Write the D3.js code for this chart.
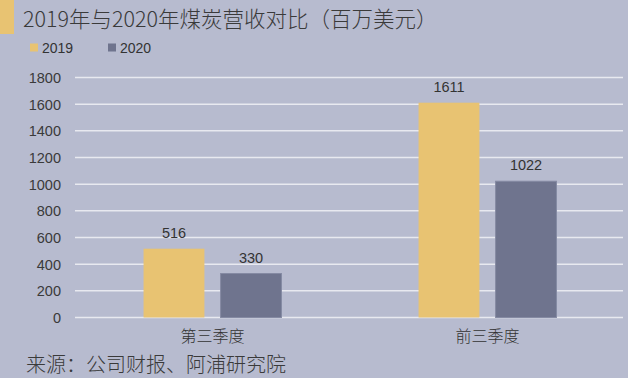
<!DOCTYPE html>
<html><head><meta charset="utf-8">
<script src="https://cdn.jsdelivr.net/npm/d3@7"></script>
<style>
html,body{margin:0;padding:0;background:#b7bbcf;}
svg{display:block;}
</style></head>
<body>
<svg id="c" width="628" height="378"></svg>
<script>
const categories = ["第三季度", "前三季度"];
const seriesNames = ["2019", "2020"];
const values2019 = [516, 1611];
const values2020 = [330, 1022];
const yTicks = [0, 200, 400, 600, 800, 1000, 1200, 1400, 1600, 1800];
const colors = ["#e8c372", "#6f748e"];
const titleText = "2019年与2020年煤炭营收对比（百万美元）";
const sourceText = "来源：公司财报、阿浦研究院";

const data = categories.map((c, i) => ({cat: c, vals: [values2019[i], values2020[i]]}));

const svg = d3.select("#c");
svg.append("rect").attr("width", 628).attr("height", 378).attr("fill", "#b7bbcf");

// title block
svg.append("rect").attr("x", 0).attr("y", 0).attr("width", 14).attr("height", 34).attr("fill", "#e8c372");
svg.append("text").attr("x", 23).attr("y", 27)
  .attr("font-family", "'Noto Sans CJK SC', sans-serif").attr("font-size", 21.5).attr("font-weight", 300)
  .attr("fill", "#3a3a3a").text(titleText);

// legend
const lgX = [30, 108];
seriesNames.forEach((s, i) => {
  svg.append("rect").attr("x", lgX[i]).attr("y", 43.5).attr("width", 8).attr("height", 8).attr("fill", colors[i]);
  svg.append("text").attr("x", lgX[i] + 12).attr("y", 52.5)
    .attr("font-family", "'Liberation Sans', Arial, sans-serif").attr("font-size", 14)
    .attr("fill", "#333").text(s);
});

const x0 = d3.scaleBand().domain(categories).range([75, 625]).padding(0);
const x1 = d3.scaleBand().domain(seriesNames).range([0, x0.bandwidth()]).paddingInner(0.21).paddingOuter(0.89);
const y = d3.scaleLinear().domain([0, 1800]).range([317.5, 77.5]);

// gridlines
svg.append("g").selectAll("line").data(yTicks).join("line")
  .attr("x1", 75).attr("x2", 623)
  .attr("y1", d => y(d)).attr("y2", d => y(d))
  .attr("stroke", "#e8e9f0").attr("stroke-width", 1.5);

// y axis labels
const yAxis = d3.axisLeft(y).tickValues(yTicks).tickFormat(d3.format("d")).tickSize(0).tickPadding(0);
const ya = svg.append("g").attr("transform", "translate(61,0)").call(yAxis);
ya.select(".domain").remove();
ya.selectAll("text").attr("font-family", "'Liberation Sans', Arial, sans-serif")
  .attr("font-size", 14.5).attr("fill", "#3a3a3a").attr("dy", "0.35em");

// bars
const g = svg.append("g").selectAll("g").data(data).join("g")
  .attr("transform", d => `translate(${x0(d.cat)},0)`);
g.selectAll("rect").data(d => d.vals.map((v, i) => ({s: seriesNames[i], v, i}))).join("rect")
  .attr("x", d => x1(d.s)).attr("width", x1.bandwidth())
  .attr("y", d => y(d.v)).attr("height", d => y(0) - y(d.v))
  .attr("fill", d => colors[d.i])
  .attr("stroke", d => d.i === 1 ? "#858aa3" : "none").attr("stroke-width", 1);
g.selectAll("text").data(d => d.vals.map((v, i) => ({s: seriesNames[i], v, i}))).join("text")
  .attr("x", d => x1(d.s) + x1.bandwidth() / 2).attr("y", d => y(d.v) - 11)
  .attr("text-anchor", "middle")
  .attr("font-family", "'Liberation Sans', Arial, sans-serif").attr("font-size", 14.5)
  .attr("fill", "#333").text(d => d.v);

// x axis labels
const xAxis = d3.axisBottom(x0).tickSize(0).tickPadding(0);
const xa = svg.append("g").attr("transform", "translate(0,331)").call(xAxis);
xa.select(".domain").remove();
xa.selectAll("text").attr("font-family", "'Noto Sans CJK SC', sans-serif")
  .attr("font-size", 16).attr("font-weight", 300).attr("fill", "#333").attr("dy", "0.71em");

// source
svg.append("text").attr("x", 26).attr("y", 372)
  .attr("font-family", "'Noto Sans CJK SC', sans-serif").attr("font-size", 20).attr("font-weight", 300)
  .attr("fill", "#3a3a3a").text(sourceText);
</script>
</body></html>
